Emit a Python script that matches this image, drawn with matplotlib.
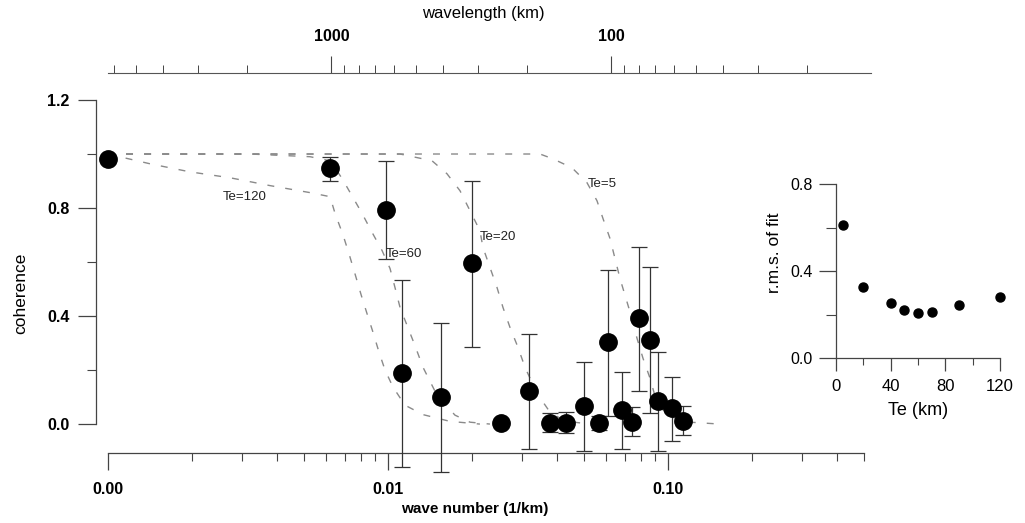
import numpy as np
import matplotlib
matplotlib.use('Agg')
import matplotlib.pyplot as plt
from matplotlib.ticker import FixedLocator, NullFormatter

plt.rcParams['font.family'] = ['Liberation Sans', 'DejaVu Sans']

# observed coherence (wave number in 1/km)
k_obs = [0.001, 0.00621, 0.00984, 0.01122, 0.01546, 0.01995, 0.02532, 0.03189, 0.0379, 0.04322,
         0.05012, 0.0567, 0.06105, 0.0685, 0.07437, 0.07877, 0.08624, 0.0921, 0.1033, 0.1131]
coh_obs = [0.982, 0.949, 0.794, 0.188, 0.10, 0.598, 0.004, 0.122, 0.004, 0.004,
           0.066, 0.004, 0.303, 0.052, 0.007, 0.391, 0.31, 0.085, 0.059, 0.011]
coh_lo = [0.982, 0.90, 0.613, -0.159, -0.177, 0.284, 0.004, -0.092, -0.03, -0.033,
          -0.10, -0.022, 0.03, -0.092, -0.044, 0.122, 0.041, -0.10, -0.063, -0.04]
coh_hi = [0.982, 0.99, 0.975, 0.532, 0.373, 0.901, 0.004, 0.332, 0.04, 0.044,
          0.229, 0.03, 0.569, 0.192, 0.063, 0.657, 0.58, 0.266, 0.174, 0.066]

# predicted coherence curves for several elastic thicknesses
k_te120 = [0.001, 0.00141, 0.00196, 0.00273, 0.00379, 0.00527, 0.00621, 0.00647, 0.00691, 0.00726,
           0.00762, 0.00801, 0.00841, 0.00884, 0.00929, 0.00976, 0.01042, 0.0115, 0.01334, 0.01665, 0.0213]
coh_te120 = [1.0, 0.964, 0.934, 0.912, 0.883, 0.857, 0.842, 0.78, 0.70, 0.63,
             0.557, 0.48, 0.41, 0.34, 0.266, 0.20, 0.137, 0.07, 0.035, 0.01, 0.0]
k_te60 = [0.001, 0.00321, 0.00527, 0.00621, 0.00685, 0.00744, 0.00808, 0.00877, 0.00952, 0.01017,
          0.01059, 0.01104, 0.01169, 0.01249, 0.01334, 0.01496, 0.01735, 0.01963, 0.02313]
coh_te60 = [1.0, 1.0, 0.99, 0.975, 0.91, 0.845, 0.78, 0.71, 0.643, 0.576,
            0.506, 0.432, 0.366, 0.29, 0.21, 0.107, 0.033, 0.007, 0.0]
k_te20 = [0.001, 0.01104, 0.01436, 0.01624, 0.01808, 0.01963, 0.0213, 0.02184, 0.02313, 0.02451,
          0.02574, 0.02727, 0.02913, 0.03086, 0.03405, 0.0379, 0.04287, 0.05266]
coh_te20 = [1.0, 1.0, 0.975, 0.927, 0.864, 0.79, 0.716, 0.654, 0.58, 0.506,
            0.432, 0.358, 0.284, 0.21, 0.114, 0.044, 0.011, 0.0]
k_te5 = [0.001, 0.0349, 0.03885, 0.04541, 0.05136, 0.05577, 0.0586, 0.06208, 0.06468, 0.0674,
         0.07079, 0.07437, 0.0775, 0.0814, 0.08624, 0.09134, 0.1, 0.1198, 0.1534]
coh_te5 = [1.0, 1.0, 0.982, 0.949, 0.894, 0.827, 0.761, 0.687, 0.613, 0.539,
           0.465, 0.391, 0.318, 0.244, 0.17, 0.078, 0.03, 0.007, 0.0]

# rms misfit vs Te (inset)
te_fit = [5, 20, 40, 50, 60, 70, 90, 120]
rms_fit = [0.61, 0.326, 0.253, 0.221, 0.207, 0.21, 0.244, 0.28]

wl_major = [1000, 100]
wl_minor = [6000, 5000, 4000, 3000, 2000, 900, 800, 700, 600, 500, 400, 300, 200,
            90, 80, 70, 60, 50, 40, 30, 20]

fig = plt.figure(figsize=(10.25, 5.23), dpi=100)
ax = fig.add_axes([96 / 1025, 1 - 453 / 523, 775 / 1025, 353 / 523])

ink = '#222222'
curve_col = '#8a8a8a'
for kk, cc in [(k_te120, coh_te120), (k_te60, coh_te60), (k_te20, coh_te20), (k_te5, coh_te5)]:
    ax.plot(kk, cc, color=curve_col, lw=1.0, dashes=(5, 8), zorder=1)

k_arr = np.array(k_obs)
c_arr = np.array(coh_obs)
yerr = [c_arr - np.array(coh_lo), np.array(coh_hi) - c_arr]
ax.errorbar(k_arr, c_arr, yerr=yerr, fmt='o', color='black', ms=12.5,
            ecolor='#333333', elinewidth=0.9, capsize=5.5, capthick=0.9,
            clip_on=False, zorder=3)

ax.text(0.00309, 0.842, 'Te=120', fontsize=9.5, ha='center', va='center', color=ink)
ax.text(0.00985, 0.631, 'Te=60', fontsize=9.5, ha='left', va='center', color=ink)
ax.text(0.0213, 0.694, 'Te=20', fontsize=9.5, ha='left', va='center', color=ink)
ax.text(0.0518, 0.89, 'Te=5', fontsize=9.5, ha='left', va='center', color=ink)

ax.set_xscale('log')
ax.set_xlim(0.000906, 0.531)
ax.set_ylim(-0.1071, 1.2)
for s in ['top', 'right']:
    ax.spines[s].set_visible(False)
ax.spines['left'].set_bounds(0, 1.2)
ax.spines['bottom'].set_bounds(0.001, 0.5)
for s in ['left', 'bottom']:
    ax.spines[s].set_color('#444444')
    ax.spines[s].set_linewidth(0.9)

ax.set_xticks([0.001, 0.01, 0.1])
ax.set_xticklabels(['0.00', '0.01', '0.10'], fontweight='bold', fontsize=11.5)
minor_k = [m * 10.0 ** e for e in (-3, -2, -1) for m in range(2, 10) if m * 10.0 ** e <= 0.5]
ax.xaxis.set_minor_locator(FixedLocator(minor_k))
ax.xaxis.set_minor_formatter(NullFormatter())
ax.tick_params(axis='x', which='major', length=12, width=0.9, color='#444444', pad=9)
ax.tick_params(axis='x', which='minor', length=6, width=0.8, color='#444444')

ax.set_yticks([0.0, 0.4, 0.8, 1.2])
ax.set_yticklabels(['0.0', '0.4', '0.8', '1.2'], fontweight='bold', fontsize=11.5)
ax.yaxis.set_minor_locator(FixedLocator([0.2, 0.6, 1.0]))
ax.tick_params(axis='y', which='major', length=13, width=0.9, color='#444444', pad=6)
ax.tick_params(axis='y', which='minor', length=6.5, width=0.8, color='#444444')

ax.set_xlabel('wave number (1/km)', fontsize=11, fontweight='bold')
ax.xaxis.set_label_coords((475 - 96) / 775, -(502 - 453) / 353)
ax.set_ylabel('coherence', fontsize=12.5)
ax.yaxis.set_label_coords((28 - 96) / 775, (453 - 293) / 353)

# wavelength axis on top
ax2 = ax.twiny()
ax2.set_xscale('log')
ax2.set_xlim(ax.get_xlim())
for s in ['bottom', 'left', 'right']:
    ax2.spines[s].set_visible(False)
ax2.spines['top'].set_position(('outward', 19.5))
ax2.spines['top'].set_bounds(0.001, 0.531)
ax2.spines['top'].set_color('#555555')
ax2.spines['top'].set_linewidth(0.8)
ax2.set_xticks([2 * np.pi / w for w in wl_major])
ax2.set_xticklabels([str(w) for w in wl_major], fontweight='bold', fontsize=11.5)
ax2.xaxis.set_minor_locator(FixedLocator([2 * np.pi / w for w in wl_minor]))
ax2.xaxis.set_minor_formatter(NullFormatter())
ax2.tick_params(axis='x', which='major', length=12, width=0.8, color='#444444', pad=9)
ax2.tick_params(axis='x', which='minor', length=6, width=0.7, color='#444444')
ax2.set_xlabel('wavelength (km)', fontsize=12, labelpad=8)

# inset: rms misfit
ax3 = fig.add_axes([836 / 1025, 1 - 358 / 523, 164 / 1025, 174 / 523])
ax3.plot(te_fit, rms_fit, 'o', color='black', ms=6.5, clip_on=False)
ax3.set_xlim(0, 120)
ax3.set_ylim(0, 0.8)
for s in ['top', 'right']:
    ax3.spines[s].set_visible(False)
for s in ['left', 'bottom']:
    ax3.spines[s].set_color('#444444')
    ax3.spines[s].set_linewidth(0.9)
ax3.set_xticks([0, 40, 80, 120])
ax3.set_xticklabels(['0', '40', '80', '120'], fontsize=12)
ax3.xaxis.set_minor_locator(FixedLocator([20, 60, 100]))
ax3.set_yticks([0.0, 0.4, 0.8])
ax3.set_yticklabels(['0.0', '0.4', '0.8'], fontsize=11.5)
ax3.yaxis.set_minor_locator(FixedLocator([0.2, 0.6]))
ax3.tick_params(axis='x', which='major', length=9, width=0.9, color='#444444', pad=6)
ax3.tick_params(axis='x', which='minor', length=5, width=0.8, color='#444444')
ax3.tick_params(axis='y', which='major', length=12, width=0.9, color='#444444', pad=5)
ax3.tick_params(axis='y', which='minor', length=7, width=0.8, color='#444444')
ax3.set_xlabel('Te (km)', fontsize=13, labelpad=6)
ax3.set_ylabel('r.m.s. of fit', fontsize=12.5)
ax3.yaxis.set_label_coords((782 - 836) / 164, (358 - 253) / 174)

fig.savefig('out.png', dpi=100)
